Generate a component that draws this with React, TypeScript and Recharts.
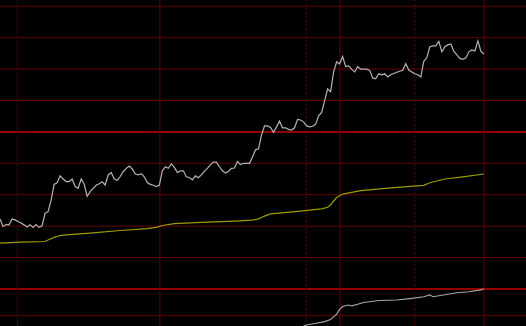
import { LineChart, Line, XAxis, YAxis, ReferenceLine } from "recharts"

// price series, one value per session (index = session)
const priceValues = [
  22.3, 19.9, 20.5, 20.4, 22.3, 22.0, 21.5, 21.0, 20.4, 19.7,
  20.4, 19.6, 20.5, 19.6, 20.1, 24.1, 24.6, 28.3, 33.3, 33.8,
  36.0, 35.0, 34.2, 34.2, 35.0, 32.6, 32.0, 35.0, 33.4, 29.5,
  31.0, 32.0, 33.0, 33.5, 34.1, 33.1, 36.3, 37.1, 35.0, 34.6,
  35.8, 37.4, 38.4, 39.1, 38.2, 36.6, 36.3, 36.7, 35.7, 33.9,
  33.3, 33.0, 32.6, 33.0, 37.6, 38.9, 38.4, 39.8, 38.7, 37.1,
  37.6, 37.6, 35.7, 35.5, 34.7, 36.0, 35.4, 36.3, 37.5, 38.4,
  39.5, 40.4, 40.4, 38.9, 37.6, 36.9, 37.4, 38.4, 38.5, 40.6,
  39.6, 40.0, 40.0, 40.0, 42.0, 44.3, 44.6, 49.0, 51.9, 51.9,
  51.4, 49.9, 51.6, 53.4, 51.3, 51.3, 50.8, 50.6, 51.3, 54.0,
  53.8, 53.2, 51.9, 51.6, 51.8, 52.4, 55.1, 56.2, 59.9, 63.7,
  62.8, 69.1, 72.3, 71.7, 74.0, 70.8, 71.0, 69.9, 69.1, 70.8,
  70.0, 70.0, 70.0, 69.6, 67.2, 66.9, 68.5, 68.2, 68.5, 67.5,
  68.2, 68.6, 69.0, 69.3, 69.6, 71.7, 69.7, 69.1, 68.5, 68.2,
  67.5, 72.5, 73.6, 77.1, 77.4, 77.4, 78.8, 75.5, 77.1, 77.7,
  78.0, 75.6, 74.5, 73.4, 73.1, 73.6, 75.5, 76.1, 75.8, 79.0,
  75.6, 74.8,
]

// slow average (yellow)
const avgIdx = [0, 7, 15, 16, 18, 20, 22, 30, 40, 49, 52, 54, 58, 67, 78, 84, 86, 88, 90, 99, 107, 109, 110, 111, 112, 114, 120, 130, 141, 143, 148, 154, 161]
const avgValues = [14.6, 14.9, 15.1, 15.6, 16.4, 17.0, 17.2, 17.8, 18.6, 19.2, 19.6, 20.2, 20.8, 21.2, 21.6, 21.9, 22.3, 23.2, 23.9, 24.7, 25.5, 26.0, 26.8, 28.0, 29.1, 30.2, 31.3, 32.2, 33.0, 33.8, 35.0, 35.7, 36.6]

// lower cumulative line
const cumIdx = [101, 102, 105, 108, 110, 112, 113, 114, 116, 117, 119, 121, 126, 132, 137, 141, 143, 144, 147, 152, 156, 160, 161]
const cumValues = [-11.8, -11.5, -10.9, -10.4, -9.7, -8.0, -6.5, -5.6, -5.1, -5.4, -4.9, -4.3, -3.7, -3.5, -3.0, -2.5, -1.9, -2.5, -2.0, -1.2, -0.9, -0.3, 0.0]

const gridLevels = [10, 20, 30, 40, 60, 70, 80, 90, -8.5]
const strongLevels = [0, 50]
const solidDates = [53.2, 113.1, 161]
const dottedDates = [5.76, 101.9, 138]

const priceData = priceValues.map((v, i) => ({ i, v }))
const avgData = avgIdx.map((i, k) => ({ i, v: avgValues[k] }))
const cumData = cumIdx.map((i, k) => ({ i, v: cumValues[k] }))

export default function App() {
  return (
    <div style={{ position: "absolute", left: 0, top: 0, width: 526, height: 326, background: "#000", overflow: "hidden" }}>
      <LineChart width={526} height={326} margin={{ top: 0, right: 0, bottom: 0, left: 0 }}>
        <XAxis type="number" dataKey="i" domain={[0, 175]} hide allowDataOverflow />
        <YAxis type="number" domain={[-11.8, 92]} hide allowDataOverflow />
        {gridLevels.map((y) => (
          <ReferenceLine key={"g" + y} y={y} stroke="#640000" strokeWidth={1} />
        ))}
        {strongLevels.map((y) => (
          <ReferenceLine key={"s" + y} y={y} stroke="#960000" strokeWidth={2} />
        ))}
        {solidDates.map((x) => (
          <ReferenceLine key={"v" + x} x={x} stroke="#640000" strokeWidth={1} />
        ))}
        {dottedDates.map((x) => (
          <ReferenceLine key={"d" + x} x={x} stroke="#5a0000" strokeWidth={1} strokeDasharray="2 2" />
        ))}
        <Line data={avgData} dataKey="v" type="linear" stroke="#9c9c00" strokeWidth={1.2} dot={false} activeDot={false} isAnimationActive={false} />
        <Line data={cumData} dataKey="v" type="linear" stroke="#a8a8a8" strokeWidth={1.1} dot={false} activeDot={false} isAnimationActive={false} />
        <Line data={priceData} dataKey="v" type="linear" stroke="#b4b4b4" strokeWidth={1.2} dot={false} activeDot={false} isAnimationActive={false} />
      </LineChart>
    </div>
  )
}
